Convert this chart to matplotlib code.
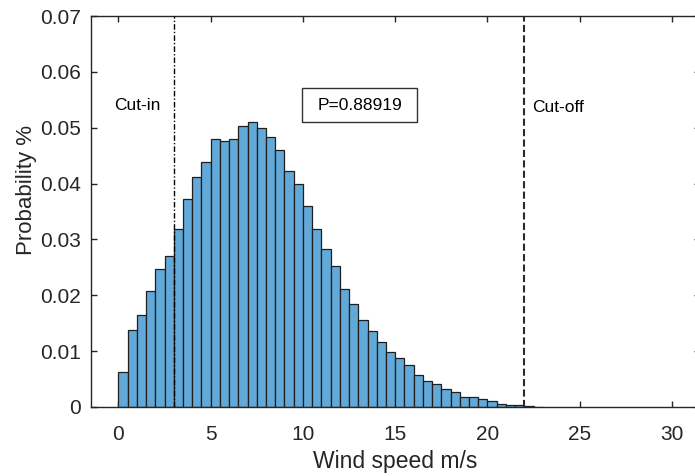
import numpy as np
import matplotlib
matplotlib.use("Agg")
import matplotlib.pyplot as plt
from matplotlib.patches import Rectangle

# ---- data -----------------------------------------------------------
bin_width = 0.5
bin_start = 0.0
probability = [
    0.0062, 0.0137, 0.0164, 0.0208, 0.0247, 0.0270,   # 0 - 3
    0.0319, 0.0373, 0.0411, 0.0439,                   # 3 - 5
    0.0479, 0.0476, 0.0479, 0.0503, 0.0511, 0.0499,   # 5 - 8
    0.0484, 0.0460, 0.0422, 0.0399,                   # 8 - 10
    0.0360, 0.0318, 0.0283, 0.0253, 0.0211, 0.0185,   # 10 - 13
    0.0156, 0.0136, 0.0117, 0.0099,                   # 13 - 15
    0.0088, 0.0075, 0.0057, 0.0047, 0.0042, 0.0033,   # 15 - 18
    0.0026, 0.0018, 0.0018, 0.0015, 0.0011, 0.0006,   # 18 - 21
    0.0004, 0.0003, 0.0001, 0.00005,                  # 21 - 23
]
cut_in = 3
cut_off = 22
p_text = "P=0.88919"
x_ticks = [0, 5, 10, 15, 20, 25, 30]
y_ticks = [0, 0.01, 0.02, 0.03, 0.04, 0.05, 0.06, 0.07]

# ---- style ----------------------------------------------------------
plt.rcParams['font.family'] = ['Liberation Sans', 'DejaVu Sans']
axcol = '#262626'

fig = plt.figure(figsize=(6.95, 4.76), dpi=100)
ax = fig.add_axes([90.7 / 695, 1 - 407 / 476, 609 / 695, 391 / 476])

left_edges = bin_start + bin_width * np.arange(len(probability))
ax.bar(left_edges, probability, width=bin_width, align='edge',
       color='#62A8D8', edgecolor='#1f1f1f', linewidth=0.9, zorder=2)

ax.axvline(cut_in, color='black', linewidth=1.0,
           linestyle=(0, (4, 1.5, 1, 1.5)), zorder=3)
ax.axvline(cut_off, color='#2a2a2a', linewidth=1.5,
           linestyle=(0, (3.4, 1.6)), zorder=3)

ax.text(-0.22, 0.0539, 'Cut-in', fontsize=12.5, color='black',
        ha='left', va='center')
ax.text(22.42, 0.0537, 'Cut-off', fontsize=12.5, color='black',
        ha='left', va='center')
ax.text(13.09, 0.0539, p_text, fontsize=12.5, color='black',
        ha='center', va='center', zorder=5)
ax.add_patch(Rectangle((0.3465, 0.7289), 0.5363 - 0.3465, 0.8159 - 0.7289,
                       transform=ax.transAxes, facecolor='white',
                       edgecolor='#333333', linewidth=1.0, zorder=4))

ax.set_xlim(-1.5, 31.5)
ax.set_ylim(0, 0.07)
ax.set_xticks(x_ticks)
ax.set_yticks(y_ticks)
ax.set_xticklabels([f"{v:g}" for v in x_ticks])
ax.set_yticklabels([f"{v:g}" for v in y_ticks])

ax.tick_params(direction='in', length=4.5, width=1.0, colors=axcol,
               labelsize=15, top=True, right=True)
ax.tick_params(axis='y', pad=7)
ax.tick_params(axis='x', pad=13)
for s in ax.spines.values():
    s.set_color(axcol)
    s.set_linewidth(1.0)

ax.set_xlabel('Wind speed m/s', fontsize=16.5, color=axcol, labelpad=4)
ax.set_ylabel('Probability %', fontsize=16, color=axcol)
ax.yaxis.set_label_coords(-0.088, 0.555)

fig.savefig('out.png', dpi=100)
